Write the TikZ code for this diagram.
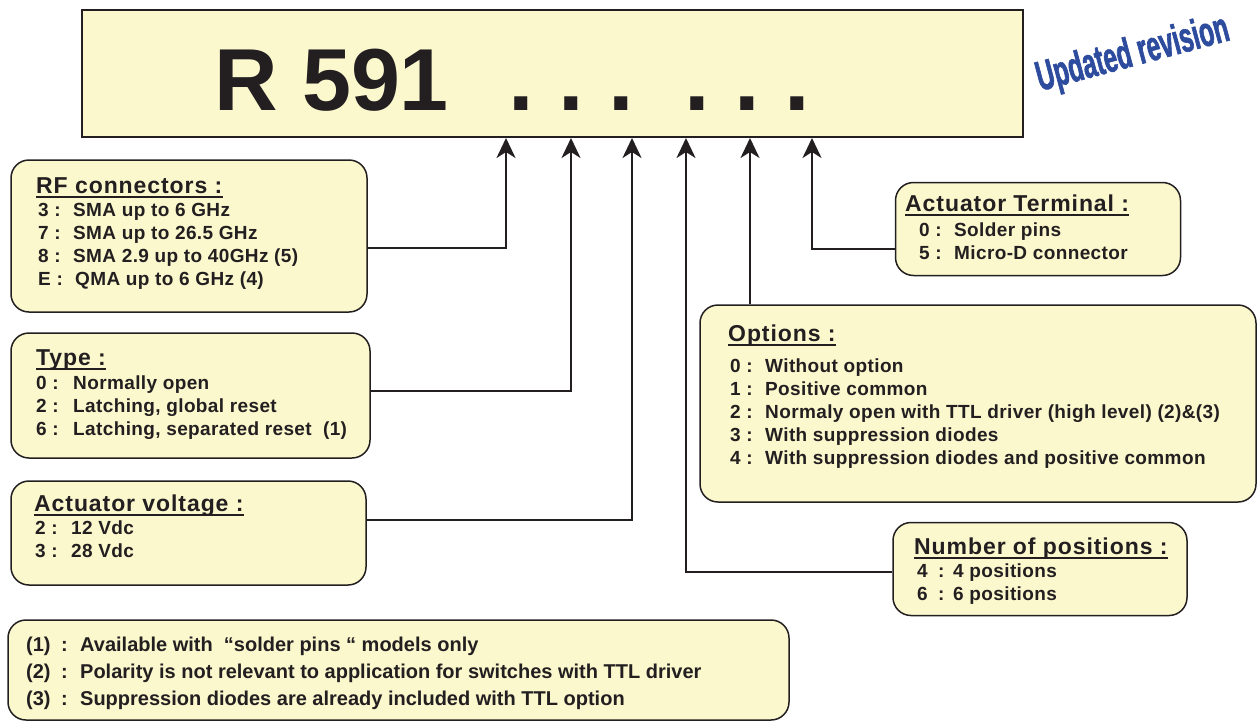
\documentclass[tikz,border=0pt]{standalone}
\usepackage{fontspec}
\setmainfont{Liberation Sans}
\newfontfamily\itemfont[LetterSpace=2]{Liberation Sans}
\newfontfamily\titlefont[LetterSpace=4]{Liberation Sans}
\newfontfamily\revfont[FakeStretch=0.58,FakeBold=1.5]{Liberation Sans}
\usetikzlibrary{arrows.meta}
\definecolor{boxfill}{HTML}{FBF8CE}
\definecolor{ink}{HTML}{231F20}
\definecolor{revblue}{HTML}{2E4C9E}
\newcommand\itm[3]{\makebox[#2][l]{#1}#3}
\begin{document}
\begin{tikzpicture}[x=1pt,y=-1pt,
  panel/.style={draw=ink, line width=1.5pt, fill=boxfill, rounded corners=18pt, inner sep=0pt},
  heading/.style={anchor=base west, inner sep=0pt, text=ink, font=\titlefont\bfseries\fontsize{23}{24}\selectfont},
  entry/.style={anchor=base west, inner sep=0pt, text=ink, font=\itemfont\bfseries\fontsize{19}{20}\selectfont},
  note/.style={anchor=base west, inner sep=0pt, text=ink, font=\bfseries\fontsize{20}{22}\selectfont},
  uline/.style={draw=ink, line width=1.8pt},
  conn/.style={draw=ink, line width=2.2pt, -{Stealth[length=20pt,width=19pt,inset=6pt]}},
  bigtxt/.style={anchor=base west, inner sep=0pt, text=ink, font=\bfseries\fontsize{88}{88}\selectfont},
  dot/.style={anchor=base, inner sep=0pt, text=ink, font=\bfseries\fontsize{92}{92}\selectfont}]
\useasboundingbox (0,0) rectangle (1257,720);
% top code box
\node[draw=ink, line width=2pt, fill=boxfill, inner sep=0pt, minimum width=941pt, minimum height=127pt] (code) at (552.5,73.5) {};
\node[bigtxt] (ref) at (214,110) {R 591};
\foreach \i/\x in {1/521.5,2/571.5,3/621.5,4/697.5,5/747.5,6/797.5}
  \node[dot] (d\i) at (\x,110) {.};
\foreach \i/\x in {1/506,2/571,3/632,4/686,5/750,6/812}
  \coordinate (t\i) at (\x,138);
% updated revision
\node[rotate=15, inner sep=0pt, text=revblue, font=\revfont\bfseries\fontsize{42}{42}\selectfont] (rev) at (1133,55) {Updated revision};
% RF connectors
\node[panel, minimum width=356pt, minimum height=152pt] (rf) at (189,236) {};
\node[heading] (rft) at (36,193) {RF connectors :};
\draw[uline] ([yshift=-4pt]rft.base west) -- ([yshift=-4pt]rft.base east);
\node[entry] (rf1) at (38,216) {\itm{3 :}{35pt}{SMA up to 6 GHz}};
\node[entry] (rf2) at (38,239) {\itm{7 :}{35pt}{SMA up to 26.5 GHz}};
\node[entry] (rf3) at (38,262) {\itm{8 :}{35pt}{SMA 2.9 up to 40GHz (5)}};
\node[entry] (rf4) at (38,285) {\itm{E :}{37pt}{QMA up to 6 GHz (4)}};
% Type
\node[panel, minimum width=359pt, minimum height=125pt] (type) at (190.5,395.5) {};
\node[heading] (tyt) at (36,365) {Type :};
\draw[uline] ([yshift=-4pt]tyt.base west) -- ([yshift=-4pt]tyt.base east);
\node[entry] (ty1) at (36,389) {\itm{0 :}{37pt}{Normally open}};
\node[entry] (ty2) at (36,412) {\itm{2 :}{37pt}{Latching, global reset}};
\node[entry] (ty3) at (36,435) {\itm{6 :}{37pt}{Latching, separated reset\ \ (1)}};
% Actuator voltage
\node[panel, minimum width=355pt, minimum height=104pt] (volt) at (188.5,533) {};
\node[heading] (vot) at (34,511) {Actuator voltage :};
\draw[uline] ([yshift=-4pt]vot.base west) -- ([yshift=-4pt]vot.base east);
\node[entry] (vo1) at (35,534) {\itm{2 :}{36pt}{12 Vdc}};
\node[entry] (vo2) at (35,557) {\itm{3 :}{36pt}{28 Vdc}};
% Actuator terminal
\node[panel, minimum width=285pt, minimum height=93pt] (term) at (1038,229) {};
\node[heading] (tet) at (905,211) {Actuator Terminal :};
\draw[uline] ([yshift=-4pt]tet.base west) -- ([yshift=-4pt]tet.base east);
\node[entry] (te1) at (919,236) {\itm{0 :}{35pt}{Solder pins}};
\node[entry] (te2) at (919,259) {\itm{5 :}{35pt}{Micro-D connector}};
% Options
\node[panel, minimum width=556pt, minimum height=197pt] (opt) at (978,403.5) {};
\node[heading] (opt0) at (728,341) {Options :};
\draw[uline] ([yshift=-4pt]opt0.base west) -- ([yshift=-4pt]opt0.base east);
\node[entry] (op1) at (730,372) {\itm{0 :}{35pt}{Without option}};
\node[entry] (op2) at (730,395) {\itm{1 :}{35pt}{Positive common}};
\node[entry] (op3) at (730,418) {\itm{2 :}{35pt}{Normaly open with TTL driver (high level) (2)\&(3)}};
\node[entry] (op4) at (730,441) {\itm{3 :}{35pt}{With suppression diodes}};
\node[entry] (op5) at (730,464) {\itm{4 :}{35pt}{With suppression diodes and positive common}};
% Number of positions
\node[panel, minimum width=294pt, minimum height=93pt] (pos) at (1040,569) {};
\node[heading] (pot) at (914,554) {Number of positions :};
\draw[uline] ([yshift=-4pt]pot.base west) -- ([yshift=-4pt]pot.base east);
\node[entry] (po1) at (917,577) {\itm{4}{21pt}{\itm{:}{15pt}{4 positions}}};
\node[entry] (po2) at (917,600) {\itm{6}{21pt}{\itm{:}{15pt}{6 positions}}};
% footnotes
\node[panel, minimum width=781pt, minimum height=100pt] (fn) at (398.5,670) {};
\node[note] (fn1) at (26,651) {\itm{(1)}{35pt}{\itm{:}{19pt}{Available with\ \ “solder pins “ models only}}};
\node[note] (fn2) at (26,678) {\itm{(2)}{35pt}{\itm{:}{19pt}{Polarity is not relevant to application for switches with TTL driver}}};
\node[note] (fn3) at (26,705) {\itm{(3)}{35pt}{\itm{:}{19pt}{Suppression diodes are already included with TTL option}}};
% connectors
\draw[conn] (rf.east |- 0,248) -| (t1);
\draw[conn] (type.east |- 0,391) -| (t2);
\draw[conn] (volt.east |- 0,520) -| (t3);
\draw[conn] (pos.west |- 0,572) -| (t4);
\draw[conn] (opt.north -| t5) -- (t5);
\draw[conn] (term.west |- 0,249) -| (t6);
\end{tikzpicture}
\end{document}
